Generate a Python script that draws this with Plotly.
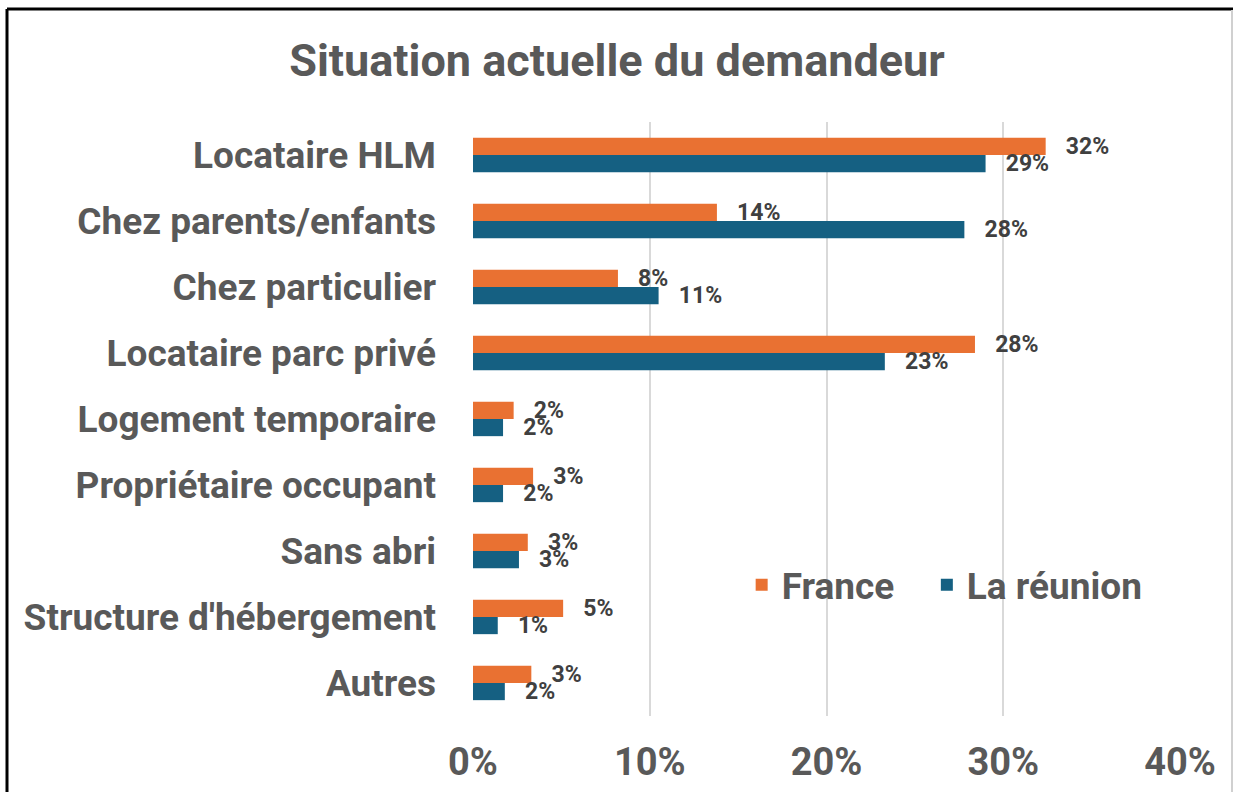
import plotly.graph_objects as go

categories = ["Locataire HLM", "Chez parents/enfants", "Chez particulier", "Locataire parc privé",
              "Logement temporaire", "Propriétaire occupant", "Sans abri",
              "Structure d'hébergement", "Autres"]
france = [0.324, 0.138, 0.082, 0.284, 0.023, 0.034, 0.031, 0.051, 0.033]
reunion = [0.290, 0.278, 0.105, 0.233, 0.017, 0.017, 0.026, 0.014, 0.018]
series_names = ["France", "La réunion"]
x_ticks = [0, 0.1, 0.2, 0.3, 0.4]
x_tick_labels = ["0%", "10%", "20%", "30%", "40%"]

ORANGE = "#E97132"
BLUE = "#156082"
GREY = "#595959"
FONT = "Roboto"

W, H = 1234, 792
L, R, T, B = 473, 54, 122, 76

fig = go.Figure()
pad = "\u00a0" * 3
legend_pad = ["\u00a0\u00a0\u00a0", ""]
for name, lp, vals, col in zip(series_names, legend_pad, [france, reunion], [ORANGE, BLUE]):
    fig.add_trace(go.Bar(
        y=categories, x=vals, name=name + lp, orientation="h",
        marker=dict(color=col, line=dict(width=0)),
        texttemplate=pad + "%{x:.0%}", textposition="outside", cliponaxis=False,
        constraintext="none",
        textfont=dict(family=FONT, size=23, color="#404040", weight="bold"),
    ))

fig.update_layout(
    width=W, height=H,
    margin=dict(l=L, r=R, t=T, b=B),
    paper_bgcolor="white", plot_bgcolor="white",
    barmode="group", bargap=0.48, bargroupgap=0,
    title=dict(text="<b>Situation actuelle du demandeur</b>", x=0.5, xanchor="center",
               y=1 - 60 / H, yanchor="middle",
               font=dict(family=FONT, size=45, color=GREY)),
    legend=dict(orientation="h", x=0.38, xanchor="left", y=0.22, yanchor="middle",
                bgcolor="rgba(0,0,0,0)",
                font=dict(family=FONT, size=37, color=GREY, weight="bold"),
                itemsizing="constant", traceorder="normal"),
    xaxis=dict(range=[0, 0.4], tickvals=x_ticks, ticktext=x_tick_labels,
               showgrid=True, gridcolor="#D9D9D9", gridwidth=2, zeroline=False,
               showline=False, ticks="", ticklabelstandoff=20, automargin=False,
               tickfont=dict(family=FONT, size=38, color=GREY, weight="bold")),
    yaxis=dict(autorange="reversed", showgrid=False, zeroline=False, ticks="",
               showline=False, ticklabelstandoff=36, automargin=False,
               tickfont=dict(family=FONT, size=37, color=GREY, weight="bold")),
    shapes=[
        dict(type="line", xref="paper", yref="paper",
             x0=(7 - L) / (W - L - R), x1=(1233 - L) / (W - L - R),
             y0=1 + (T - 9) / (H - T - B), y1=1 + (T - 9) / (H - T - B),
             line=dict(color="black", width=3)),
        dict(type="line", xref="paper", yref="paper",
             x0=(7 - L) / (W - L - R), x1=(7 - L) / (W - L - R),
             y0=1 + (T - 9) / (H - T - B), y1=-(B + 5) / (H - T - B),
             line=dict(color="black", width=3)),
        dict(type="line", xref="paper", yref="paper",
             x0=(1232 - L) / (W - L - R), x1=(1232 - L) / (W - L - R),
             y0=1 + (T - 10) / (H - T - B), y1=-(B + 5) / (H - T - B),
             line=dict(color="#D0D0D0", width=2)),
    ],
)

fig.write_html("out.html", config={"displayModeBar": False},
               post_script="document.body.style.margin='0';document.body.style.overflow='hidden';")
